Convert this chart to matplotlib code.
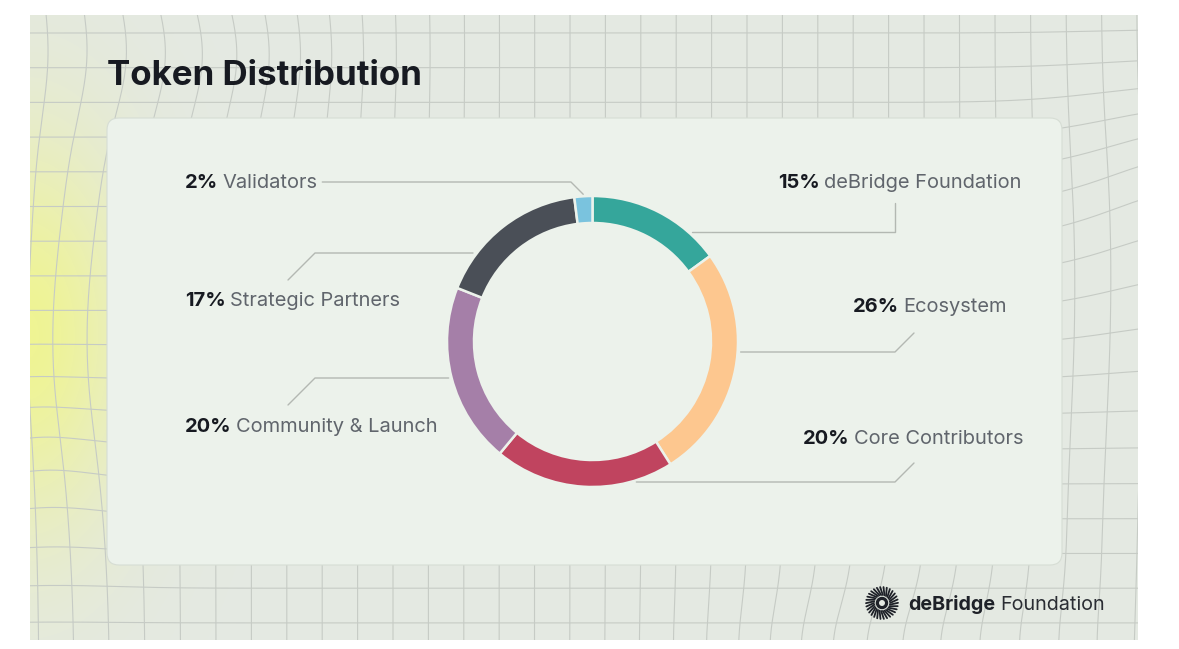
import numpy as np
import matplotlib
matplotlib.use("Agg")
import matplotlib.pyplot as plt
from matplotlib.patches import FancyBboxPatch, Rectangle, Circle

# ---------------- data ----------------
title = "Token Distribution"
categories = ["deBridge Foundation", "Ecosystem", "Core Contributors",
              "Community & Launch", "Strategic Partners", "Validators"]
shares = [15, 26, 20, 20, 17, 2]
colors = ["#35A69B", "#FDC78F", "#C0445F", "#A57FA8", "#4A4F57", "#7AC3DE"]
brand_bold = "deBridge"
brand_regular = "Foundation"

# ---------------- layout (pixels, top-left origin) ----------------
W, H = 1179, 649
FONT = "Inter"
SLIDE = (30, 15, 1138, 640)
CARD = (107, 118, 1062, 565)
CX, CY, R, RING_W = 592.5, 341.5, 145.5, 27

BG = "#E4E9E2"
CARD_C = "#ECF2EB"
LINE_C = "#B3B8B2"
DARK = "#171A21"
GREY = "#60656C"
GAP_EM = 0.2

fig = plt.figure(figsize=(W / 100, H / 100), dpi=100)
fig.patch.set_facecolor("white")
ax = fig.add_axes([0, 0, 1, 1])


def Y(y):
    return H - y


# slide background
slide = Rectangle((SLIDE[0], Y(SLIDE[3])), SLIDE[2] - SLIDE[0], SLIDE[3] - SLIDE[1],
                  facecolor=BG, edgecolor="none", zorder=0)
ax.add_patch(slide)

# yellow glow on the left
gx = np.linspace(SLIDE[0], SLIDE[2], 600)
gy = np.linspace(SLIDE[1], SLIDE[3], 340)
GX, GY = np.meshgrid(gx, gy)
a = np.exp(-(((GX - 25) / 75.0) ** 2 + ((GY - 335) / 140.0) ** 2) / 2.0) * 0.8
rgba = np.zeros(GX.shape + (4,))
rgba[..., 0] = 0.95
rgba[..., 1] = 0.97
rgba[..., 2] = 0.50
rgba[..., 3] = a
ax.imshow(rgba, extent=(SLIDE[0], SLIDE[2], Y(SLIDE[3]), Y(SLIDE[1])),
          origin="upper", zorder=0.5, interpolation="bilinear", aspect="auto")


# warped background grid
def warp(x, y):
    dx = np.zeros_like(x)
    dy = np.zeros_like(y)
    dx += -24 * np.exp(-(((x - 95) / 45.0) ** 2 + ((y - 340) / 120.0) ** 2) / 2)
    dy += -14 * np.exp(-(((x - 60) / 60.0) ** 2 + ((y - 480) / 60.0) ** 2) / 2)
    dx += 22 * np.exp(-(((x - 180) / 110.0) ** 2 + ((y - 55) / 55.0) ** 2) / 2)
    dy += -50 * np.exp(-(((x - 1185) / 85.0) ** 2 + ((y - 230) / 85.0) ** 2) / 2)
    dx += -22 * np.exp(-(((x - 900) / 110.0) ** 2 + ((y - 650) / 45.0) ** 2) / 2)
    dx += 10 * np.exp(-(((x - 1090) / 60.0) ** 2 + ((y - 300) / 120.0) ** 2) / 2)
    return x + dx, y + dy


t = np.linspace(-40, H + 40, 300)
for k in range(-3, 36):
    x0 = 39 + 35.4 * k
    xs, ys = warp(np.full_like(t, x0), t.copy())
    ln, = ax.plot(xs, Y(ys), color="#C6CBC5", lw=0.8, zorder=1)
    ln.set_clip_path(slide)
t2 = np.linspace(-40, W + 40, 500)
for k in range(-2, 20):
    y0 = 33 + 34.7 * k
    xs, ys = warp(t2.copy(), np.full_like(t2, y0))
    ln, = ax.plot(xs, Y(ys), color="#C6CBC5", lw=0.8, zorder=1)
    ln.set_clip_path(slide)

# card
card = FancyBboxPatch((CARD[0] + 12, Y(CARD[3]) + 12), CARD[2] - CARD[0] - 24, CARD[3] - CARD[1] - 24,
                      boxstyle="round,pad=12", facecolor=CARD_C, edgecolor="#D6DDD4", lw=0.8, zorder=2)
ax.add_patch(card)

# donut
wedges, _ = ax.pie(shares, colors=colors, startangle=90, counterclock=False,
                   radius=R, center=(CX, Y(CY)),
                   wedgeprops=dict(width=RING_W, edgecolor=CARD_C, linewidth=1.8))
for w_ in wedges:
    w_.set_zorder(3)

ax.set_xlim(0, W)
ax.set_ylim(0, H)
ax.set_aspect("equal")
ax.axis("off")

renderer = fig.canvas.get_renderer()


def width_px(s, size, weight):
    tt = ax.text(0, 0, s, fontsize=size, fontweight=weight, family=FONT)
    w = tt.get_window_extent(renderer).width
    tt.remove()
    return w


def fit_size(s, target, weight, base=12.0):
    return base * target / width_px(s, base, weight)


# title
ts = fit_size(title, 316, "bold", 26)
ax.text(107, Y(85), title, fontsize=ts, fontweight="bold", family=FONT,
        color=DARK, va="baseline", ha="left", zorder=5)

# labels
pct = [f"{v}%" for v in shares]


def label_width(p, name, size):
    return width_px(p, size, "bold") + GAP_EM * size * 100 / 72 + width_px(name, size, "normal")


targets = {"Validators": 128, "Strategic Partners": 217, "Community & Launch": 252,
           "deBridge Foundation": 244, "Ecosystem": 154, "Core Contributors": 220}
sizes = [12.0 * targets[c] / label_width(p, c, 12.0) for p, c in zip(pct, categories)]
lab_size = float(np.median(sizes))

label_pos = {  # (x anchor, y centre, side)
    "deBridge Foundation": (1021, 181, "right"),
    "Ecosystem": (1007, 306, "right"),
    "Core Contributors": (1023, 438, "right"),
    "Community & Launch": (185, 425, "left"),
    "Strategic Partners": (185, 300, "left"),
    "Validators": (185, 181, "left"),
}

text_ends = {}
for p, c in zip(pct, categories):
    x, yc, side = label_pos[c]
    total = label_width(p, c, lab_size)
    x0 = x if side == "left" else x - total
    base = yc + 6.5
    ax.text(x0, Y(base), p, fontsize=lab_size, fontweight="bold", family=FONT,
            color=DARK, va="baseline", ha="left", zorder=5)
    xn = x0 + width_px(p, lab_size, "bold") + GAP_EM * lab_size * 100 / 72
    ax.text(xn, Y(base), c, fontsize=lab_size, fontweight="normal", family=FONT,
            color=GREY, va="baseline", ha="left", zorder=5)
    text_ends[c] = x0 + total


def ring_x(y, side, gap=4):
    dy = y - CY
    off = np.sqrt(max(R ** 2 - dy ** 2, 0))
    return CX + off + gap if side == "right" else CX - off - gap


def lead(xs, ys):
    ax.plot(xs, [Y(v) for v in ys], color=LINE_C, lw=1.0, zorder=4,
            solid_capstyle="round", solid_joinstyle="round")


# leader lines
y_h = 232
lead([895, 895, ring_x(y_h, "right")], [203, y_h, y_h])
y_h = 352
lead([914, 895, ring_x(y_h, "right", 3)], [333, y_h, y_h])
y_h = 482
lead([914, 895, ring_x(y_h, "right", 6)], [463, y_h, y_h])
y_h = 253
lead([288, 315, ring_x(y_h, "left")], [280, y_h, y_h])
y_h = 378
lead([288, 315, ring_x(y_h, "left", 3)], [405, y_h, y_h])
cum = np.cumsum([0] + shares)
i = categories.index("Validators")
mid = np.deg2rad(90 - 360 * (cum[i] + cum[i + 1]) / 2 / sum(shares))
axp = CX + (R + 2) * np.cos(mid)
ayp = CY - (R + 2) * np.sin(mid)
y_h = 182
lead([text_ends["Validators"] + 5, axp - (ayp - y_h), axp], [y_h, y_h, ayp])

# brand logo
lx, ly = 882, 603
n = 30
for j in range(n):
    th = 2 * np.pi * j / n
    r1, r2 = 8.0, 16.0
    ax.plot([lx + r1 * np.cos(th), lx + r2 * np.cos(th + 0.22)],
            [Y(ly) + r1 * np.sin(th), Y(ly) + r2 * np.sin(th + 0.22)],
            color="#1E2128", lw=1.3, zorder=5, solid_capstyle="round")
ax.add_patch(Circle((lx, Y(ly)), 4.6, facecolor="none", edgecolor="#1E2128", lw=2.3, zorder=5))

bs = fit_size(brand_bold + " " + brand_regular, 195, "normal", 14)
wb = width_px(brand_bold, bs, "bold")
ax.text(908, Y(610), brand_bold, fontsize=bs, fontweight="bold", family=FONT,
        color="#1E2128", va="baseline", ha="left", zorder=5)
ax.text(908 + wb + 0.25 * bs * 100 / 72, Y(610), brand_regular, fontsize=bs, fontweight="normal",
        family=FONT, color="#2A2D33", va="baseline", ha="left", zorder=5)

fig.savefig("out.png", dpi=100, facecolor="white")
